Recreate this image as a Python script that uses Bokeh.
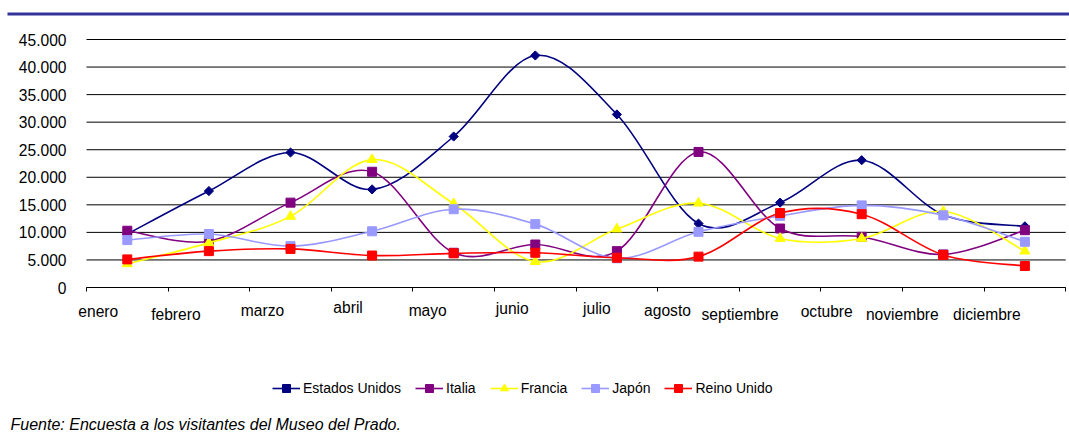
import numpy as np
from bokeh.plotting import figure
from bokeh.models import (ColumnDataSource, FixedTicker, Legend, LegendItem,
                          LabelSet, Label, BoxAnnotation, Range1d, LinearAxis)
from bokeh.core.properties import value
from bokeh.embed import file_html
from bokeh.resources import INLINE

# ---------------- data ----------------
months = ["enero", "febrero", "marzo", "abril", "mayo", "junio", "julio",
          "agosto", "septiembre", "octubre", "noviembre", "diciembre"]
estados_unidos = [9700, 17500, 24500, 17800, 27400, 42100, 31400, 11600, 15400, 23100, 13200, 11100]
italia = [10300, 8400, 15400, 21000, 6300, 7800, 6600, 24600, 10700, 9200, 6000, 10400]
francia = [4300, 8100, 12900, 23200, 15200, 4700, 10600, 15300, 8900, 8900, 13800, 6600]
japon = [8600, 9700, 7500, 10200, 14200, 11500, 5300, 10100, 13000, 14900, 13100, 8300]
reino_unido = [5100, 6600, 7000, 5800, 6200, 6300, 5400, 5600, 13500, 13300, 5900, 3900]
y_ticks = [0, 5000, 10000, 15000, 20000, 25000, 30000, 35000, 40000, 45000]
source_text = "Fuente: Encuesta a los visitantes del Museo del Prado."

# ---------------- layout / styling ----------------
W, H = 1069, 441
FONT = "Liberation Sans"
PLOT_LEFT, PLOT_BOTTOM, PLOT_TOP = 86, 287, 39      # pixel positions of plot area
CAT_W = 81.6                                          # pixels per month
Y_MAX = 45000
PX_PER_Y = (PLOT_BOTTOM - PLOT_TOP) / Y_MAX
label_dx = [-29, -33, -28, -24, -26, -23, -20, -31, -40, -35, -41, -38]
label_dy = [-29, -32, -28, -25, -28, -26, -26, -28, -32, -29, -32, -32]

series = [
    ("Estados Unidos", estados_unidos, "#000080", "square", 6.5, np.pi / 4),
    ("Italia", italia, "#800080", "square", 9, 0),
    ("Francia", francia, "#FFFF00", "triangle", 10, 0),
    ("Japón", japon, "#9999FF", "square", 9, 0),
    ("Reino Unido", reino_unido, "#FF0000", "square", 9, 0),
]

n = len(months)
x_range = Range1d(-PLOT_LEFT / CAT_W, (W - PLOT_LEFT) / CAT_W)
y_range = Range1d(-(H - PLOT_BOTTOM) / PX_PER_Y, PLOT_BOTTOM / PX_PER_Y)

p = figure(width=W, height=H, output_backend="svg", toolbar_location=None,
           x_range=x_range, y_range=y_range, x_axis_location=None, y_axis_location=None,
           min_border=0)
p.outline_line_color = None
p.background_fill_color = "white"
p.border_fill_color = "white"
p.grid.visible = False

# horizontal gridlines over the plot area
p.segment(x0=[0] * len(y_ticks), x1=[n] * len(y_ticks), y0=y_ticks, y1=y_ticks,
          line_color="black", line_width=1)

# y axis
yaxis = LinearAxis(fixed_location=0, bounds=(0, Y_MAX))
yaxis.ticker = FixedTicker(ticks=y_ticks)
yaxis.major_label_overrides = {t: f"{t:,}".replace(",", ".") for t in y_ticks}
yaxis.axis_line_color = None
yaxis.major_tick_line_color = None
yaxis.minor_tick_line_color = None
yaxis.major_label_standoff = 14
yaxis.major_label_text_font = FONT
yaxis.major_label_text_font_size = "15.6px"
yaxis.major_label_text_color = "black"
p.add_layout(yaxis, "left")

# x axis
xaxis = LinearAxis(fixed_location=0, bounds=(0, n))
xaxis.ticker = FixedTicker(ticks=list(range(n + 1)))
xaxis.axis_line_color = "black"
xaxis.major_tick_line_color = "black"
xaxis.major_tick_out = 4
xaxis.major_tick_in = 0
xaxis.minor_tick_line_color = None
xaxis.major_label_text_alpha = 0
xaxis.major_label_text_font_size = "1px"
p.add_layout(xaxis, "below")

xs = [i + 0.5 for i in range(n)]


def bezier_source(xv, yv):
    m = len(xv)
    d = dict(x0=[], y0=[], x1=[], y1=[], cx0=[], cy0=[], cx1=[], cy1=[])
    for i in range(m - 1):
        xm, ym = xv[max(i - 1, 0)], yv[max(i - 1, 0)]
        xp, yp = xv[min(i + 2, m - 1)], yv[min(i + 2, m - 1)]
        d["x0"].append(xv[i]); d["y0"].append(yv[i])
        d["x1"].append(xv[i + 1]); d["y1"].append(yv[i + 1])
        d["cx0"].append(xv[i] + (xv[i + 1] - xm) / 6)
        d["cy0"].append(yv[i] + (yv[i + 1] - ym) / 6)
        d["cx1"].append(xv[i + 1] - (xp - xv[i]) / 6)
        d["cy1"].append(yv[i + 1] - (yp - yv[i]) / 6)
    return ColumnDataSource(d)


items = []
for name, vals, color, marker, size, angle in series:
    src = bezier_source(xs, vals)
    p.bezier(x0="x0", y0="y0", x1="x1", y1="y1", cx0="cx0", cy0="cy0",
             cx1="cx1", cy1="cy1", source=src, line_color=color, line_width=1.6)
    # legend-only line renderer (no visible points)
    legend_line = p.line(x=xs, y=[np.nan] * n, line_color=color, line_width=1.6)
    sc = p.scatter(x=xs, y=vals, marker=marker, size=size, angle=angle,
                   fill_color=color, line_color=color)
    items.append(LegendItem(label=name, renderers=[legend_line, sc]))

legend = Legend(items=items, location=(272, H - 398), orientation="horizontal",
                border_line_color=None, background_fill_alpha=0, padding=0, margin=0,
                spacing=14, glyph_width=28, glyph_height=20, label_standoff=3,
                label_height=20, label_text_font=FONT, label_text_font_size="14px",
                label_text_color="black")
p.add_layout(legend, "center")

# month labels
lab_src = ColumnDataSource(dict(x=xs, y=[0] * n, text=months, dx=label_dx, dy=label_dy))
p.add_layout(LabelSet(x="x", y="y", text="text", x_offset="dx", y_offset="dy",
                      source=lab_src, text_align="center", text_baseline="alphabetic",
                      text_font=value(FONT), text_font_size="15.6px", text_color="black"))

# top blue rule
p.add_layout(BoxAnnotation(left=(7 - PLOT_LEFT) / CAT_W,
                           top=(PLOT_BOTTOM - 12) / PX_PER_Y, bottom=(PLOT_BOTTOM - 15) / PX_PER_Y,
                           fill_color="#333399", fill_alpha=1, line_color=None))

# source note
p.add_layout(Label(x=10, y=H - 424, x_units="screen", y_units="screen", text=source_text,
                   text_font=FONT, text_font_size="16px", text_font_style="italic",
                   text_baseline="middle", text_color="black"))

open("out.html", "w").write(file_html(p, INLINE))
